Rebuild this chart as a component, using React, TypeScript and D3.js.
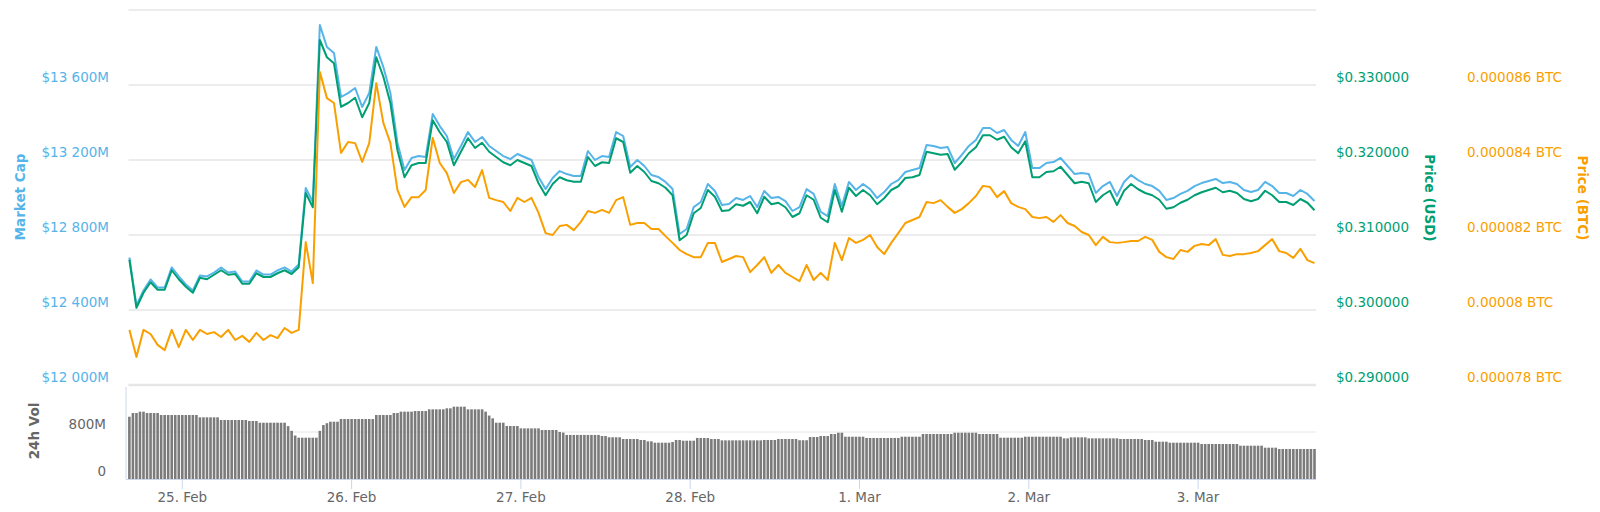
import * as d3 from 'd3';

// hourly samples, first one at 24 Feb 16:30 UTC
const marketCap = [
  12680, 12424, 12504, 12563, 12520, 12520, 12627, 12579, 12536, 12504,
  12584, 12579, 12600, 12627, 12600, 12605, 12552, 12552, 12611, 12589,
  12589, 12611, 12627, 12605, 12643, 13051, 12976, 13920, 13803, 13771,
  13536, 13557, 13584, 13483, 13557, 13803, 13696, 13557, 13291, 13147,
  13211, 13221, 13216, 13445, 13381, 13328, 13205, 13275, 13349, 13296,
  13323, 13275, 13248, 13221, 13205, 13232, 13216, 13200, 13109, 13045,
  13104, 13141, 13125, 13115, 13115, 13248, 13200, 13221, 13216, 13349,
  13328, 13163, 13200, 13168, 13120, 13109, 13083, 13045, 12805, 12832,
  12949, 12976, 13072, 13035, 12960, 12965, 12997, 12987, 13008, 12949,
  13035, 12997, 13003, 12981, 12928, 12949, 13045, 13019, 12923, 12901,
  13072, 12955, 13083, 13040, 13072, 13045, 12997, 13029, 13072, 13093,
  13136, 13147, 13157, 13280, 13275, 13264, 13269, 13184, 13227, 13275,
  13307, 13371, 13371, 13344, 13360, 13307, 13275, 13349, 13157, 13157,
  13184, 13189, 13211, 13168, 13125, 13131, 13125, 13024, 13061, 13083,
  13008, 13083, 13120, 13093, 13072, 13061, 13035, 12987, 12997, 13019,
  13035, 13061, 13077, 13088, 13099, 13077, 13083, 13072, 13040, 13029,
  13040, 13083, 13061, 13024, 13024, 13008, 13040, 13019, 12981,
];

const usdPrice = [
  0.3067, 0.3003, 0.3023, 0.3037, 0.3027, 0.3027, 0.3053, 0.3041, 0.3031, 0.3023,
  0.3043, 0.3041, 0.3047, 0.3053, 0.3047, 0.3048, 0.3035, 0.3035, 0.3049, 0.3044,
  0.3044, 0.3049, 0.3053, 0.3048, 0.3057, 0.3156, 0.3137, 0.336, 0.3337, 0.3329,
  0.3271, 0.3276, 0.3283, 0.3257, 0.3276, 0.3337, 0.3311, 0.3276, 0.3213, 0.3177,
  0.3193, 0.3196, 0.3196, 0.3253, 0.3237, 0.3224, 0.3193, 0.3211, 0.3229, 0.3216,
  0.3223, 0.3211, 0.3204, 0.3197, 0.3193, 0.32, 0.3196, 0.3192, 0.3169, 0.3153,
  0.3168, 0.3177, 0.3173, 0.3171, 0.3171, 0.3204, 0.3192, 0.3197, 0.3196, 0.3229,
  0.3224, 0.3183, 0.3192, 0.3184, 0.3172, 0.3169, 0.3163, 0.3153, 0.3093, 0.31,
  0.3129, 0.3136, 0.316, 0.3151, 0.3132, 0.3133, 0.3141, 0.3139, 0.3144, 0.3129,
  0.3151, 0.3141, 0.3143, 0.3137, 0.3124, 0.3129, 0.3153, 0.3147, 0.3123, 0.3117,
  0.316, 0.3131, 0.3163, 0.3152, 0.316, 0.3153, 0.3141, 0.3149, 0.316, 0.3165,
  0.3176, 0.3177, 0.318, 0.3211, 0.3209, 0.3207, 0.3208, 0.3187, 0.3197, 0.3209,
  0.3217, 0.3233, 0.3233, 0.3227, 0.3231, 0.3217, 0.3209, 0.3225, 0.3177, 0.3177,
  0.3184, 0.3185, 0.3191, 0.318, 0.3169, 0.3171, 0.3169, 0.3144, 0.3153, 0.3159,
  0.314, 0.3159, 0.3168, 0.3161, 0.3156, 0.3153, 0.3147, 0.3135, 0.3137, 0.3143,
  0.3147, 0.3153, 0.3157, 0.316, 0.3163, 0.3157, 0.3159, 0.3156, 0.3148, 0.3145,
  0.3148, 0.3159, 0.3153, 0.3144, 0.3144, 0.314, 0.3148, 0.3143, 0.3133,
];

const btcPrice = [
  79.47e-6, 78.75e-6, 79.47e-6, 79.36e-6, 79.07e-6, 78.93e-6, 79.47e-6, 79.01e-6, 79.47e-6, 79.2e-6,
  79.47e-6, 79.36e-6, 79.41e-6, 79.28e-6, 79.47e-6, 79.2e-6, 79.31e-6, 79.15e-6, 79.39e-6, 79.2e-6,
  79.33e-6, 79.25e-6, 79.52e-6, 79.39e-6, 79.47e-6, 81.81e-6, 80.72e-6, 86.35e-6, 85.65e-6, 85.52e-6,
  84.19e-6, 84.48e-6, 84.45e-6, 83.95e-6, 84.45e-6, 86.05e-6, 84.99e-6, 84.45e-6, 83.2e-6, 82.75e-6,
  83.01e-6, 83.01e-6, 83.2e-6, 84.59e-6, 83.92e-6, 83.65e-6, 83.12e-6, 83.41e-6, 83.47e-6, 83.28e-6,
  83.73e-6, 82.99e-6, 82.93e-6, 82.88e-6, 82.64e-6, 82.99e-6, 82.88e-6, 82.99e-6, 82.59e-6, 82.05e-6,
  82.0e-6, 82.24e-6, 82.27e-6, 82.13e-6, 82.35e-6, 82.64e-6, 82.59e-6, 82.67e-6, 82.59e-6, 82.93e-6,
  83.01e-6, 82.27e-6, 82.32e-6, 82.32e-6, 82.16e-6, 82.16e-6, 81.97e-6, 81.79e-6, 81.6e-6, 81.49e-6,
  81.41e-6, 81.41e-6, 81.79e-6, 81.79e-6, 81.28e-6, 81.36e-6, 81.44e-6, 81.41e-6, 81.01e-6, 81.2e-6,
  81.41e-6, 80.99e-6, 81.2e-6, 80.99e-6, 80.88e-6, 80.77e-6, 81.2e-6, 80.8e-6, 80.99e-6, 80.8e-6,
  81.79e-6, 81.33e-6, 81.92e-6, 81.79e-6, 81.87e-6, 82.0e-6, 81.68e-6, 81.49e-6, 81.79e-6, 82.05e-6,
  82.32e-6, 82.4e-6, 82.48e-6, 82.88e-6, 82.85e-6, 82.93e-6, 82.75e-6, 82.59e-6, 82.69e-6, 82.85e-6,
  83.04e-6, 83.31e-6, 83.28e-6, 83.01e-6, 83.17e-6, 82.85e-6, 82.75e-6, 82.69e-6, 82.48e-6, 82.45e-6,
  82.48e-6, 82.35e-6, 82.53e-6, 82.32e-6, 82.24e-6, 82.08e-6, 82.0e-6, 81.73e-6, 81.95e-6, 81.81e-6,
  81.79e-6, 81.81e-6, 81.84e-6, 81.84e-6, 81.95e-6, 81.87e-6, 81.55e-6, 81.41e-6, 81.36e-6, 81.6e-6,
  81.55e-6, 81.71e-6, 81.76e-6, 81.73e-6, 81.89e-6, 81.47e-6, 81.44e-6, 81.49e-6, 81.49e-6, 81.52e-6,
  81.57e-6, 81.73e-6, 81.89e-6, 81.57e-6, 81.52e-6, 81.39e-6, 81.63e-6, 81.33e-6, 81.25e-6,
];

// 24h volume in millions USD, one bar per half hour
const volume24h = [
  1060, 1123, 1123, 1146, 1146, 1123, 1123, 1123, 1123,
  1089, 1089, 1089, 1089, 1089, 1089, 1089, 1089, 1089, 1089, 1089,
  1050, 1050, 1050, 1050, 1050, 1050,
  1004, 1004, 1004, 1004, 1004, 1004, 1004, 1004,
  987, 987, 987,
  958, 958, 958, 958, 958, 958, 958, 958,
  900, 820, 740,
  703, 703, 703, 703, 703, 703,
  820, 919, 950,
  975, 975, 975,
  1021, 1021, 1021, 1021, 1021, 1021, 1021, 1021, 1021, 1021,
  1089, 1089, 1089, 1089, 1089,
  1123, 1123,
  1146, 1146, 1146, 1146,
  1157, 1157, 1157, 1157,
  1186, 1186, 1186, 1186, 1186,
  1203, 1203,
  1231, 1231, 1231, 1231,
  1186, 1186, 1186, 1186, 1186,
  1146, 1080, 1033,
  958, 958, 958,
  902, 902, 902, 902,
  862, 862, 862, 862, 862, 862,
  834, 834, 834, 834, 834,
  800, 790,
  750, 750, 750, 750, 750, 750, 750, 750, 750, 750,
  732, 732,
  710, 710, 710, 710,
  681, 681, 681, 681, 681,
  664, 664,
  641, 641,
  618, 618, 618, 618, 618,
  630,
  664, 664,
  652, 652, 652, 652,
  698, 698, 698, 698,
  681, 681, 681,
  658, 658, 658, 658, 658, 658, 658, 658, 658, 658, 658, 658,
  664, 664, 664, 664,
  681, 681, 681, 681, 681, 681,
  660, 660, 660,
  715, 715, 715,
  732, 732, 732,
  766, 766,
  788, 788,
  720, 720, 720, 720, 720, 720,
  698, 698, 698, 698, 698, 698, 698, 698, 698, 698,
  720, 720, 720, 720, 720, 720,
  766, 766, 766, 766, 766, 766, 766, 766, 766,
  788, 788, 788, 788, 788, 788, 788,
  766, 766, 766, 766, 766, 766,
  703, 703, 703, 703, 703, 703, 703,
  720, 720, 720, 720, 720, 720, 720, 720, 720, 720, 720,
  692, 692,
  709, 709, 709, 709, 709,
  692, 692, 692, 692, 692, 692, 692, 692, 692,
  681, 681, 681, 681, 681, 681, 681,
  664, 664, 664,
  635, 635, 635, 635,
  618, 618, 618, 618, 618, 618, 618, 618, 618,
  596, 596, 596, 596, 596, 596, 596, 596, 596, 596, 596,
  567, 567, 567, 567, 567, 567, 567,
  533, 533, 533, 533,
  511, 511, 511, 511, 511, 511, 511, 511, 511, 511, 511,
];

const capTicks = [12000, 12400, 12800, 13200, 13600];
const usdTicks = [0.29, 0.3, 0.31, 0.32, 0.33];
const btcTicks = [0.000078, 0.00008, 0.000082, 0.000084, 0.000086];
const volTicks = [0, 800];
const dayTicks = [
  Date.UTC(2019, 1, 25), Date.UTC(2019, 1, 26), Date.UTC(2019, 1, 27), Date.UTC(2019, 1, 28),
  Date.UTC(2019, 2, 1), Date.UTC(2019, 2, 2), Date.UTC(2019, 2, 3),
];

const FIRST_POINT = Date.UTC(2019, 1, 24, 16, 30);
const HOUR = 3600 * 1000;

const FONT = '"DejaVu Sans", "Lucida Grande", Arial, sans-serif';
const BLUE = '#56b4e9';
const GREEN = '#009e73';
const ORANGE = '#f9a000';
const GRID = '#e6e6e6';
const AXIS = '#ccd6eb';

const PLOT_LEFT = 128.5;
const PLOT_RIGHT = 1316;

export default function App() {
  const x = d3
    .scaleUtc()
    .domain([dayTicks[0], dayTicks[dayTicks.length - 1]])
    .range([182.3, 1198.1]);
  const yCap = d3.scaleLinear().domain([12000, 14000]).range([385, 10]);
  const yUsd = d3.scaleLinear().domain([0.29, 0.34]).range([385, 10]);
  const yBtc = d3.scaleLinear().domain([0.000078, 0.000088]).range([385, 10]);
  const yVol = d3.scaleLinear().domain([0, 1600]).range([479, 385]);

  const hourX = (i: number) => x(FIRST_POINT + i * HOUR);
  const halfHourX = (j: number) => x(FIRST_POINT + (j * HOUR) / 2);

  const capLine = d3.line<number>().x((_, i) => hourX(i)).y(v => yCap(v));
  const usdLine = d3.line<number>().x((_, i) => hourX(i)).y(v => yUsd(v));
  const btcLine = d3.line<number>().x((_, i) => hourX(i)).y(v => yBtc(v));

  const capLabel = (v: number) => `$${d3.format(',')(v).replace(/,/g, ' ')}M`;
  const dayLabel = d3.utcFormat('%-d. %b');
  const gridValues = [...capTicks, yCap.domain()[1]];

  return (
    <svg
      width={1600}
      height={512}
      style={{ position: 'absolute', left: 0, top: 0, background: '#fff' }}
      fontFamily={FONT}
    >
      {gridValues.map(v => (
        <line key={`g${v}`} x1={PLOT_LEFT} x2={PLOT_RIGHT} y1={yCap(v)} y2={yCap(v)} stroke={GRID} strokeWidth={1.5} />
      ))}

      {/* volume panel */}
      <line x1={PLOT_LEFT} x2={PLOT_RIGHT} y1={yVol(800)} y2={yVol(800)} stroke={GRID} strokeWidth={1} />
      <line x1={PLOT_LEFT} x2={PLOT_RIGHT} y1={yVol(1600)} y2={yVol(1600)} stroke={GRID} strokeWidth={2.5} />
      {volume24h.map((v, j) => (
        <rect
          key={`v${j}`}
          x={halfHourX(j) - 1.3}
          y={yVol(v)}
          width={2.6}
          height={yVol(0) - yVol(v)}
          fill="#7b7b7b"
        />
      ))}
      <line x1={126} x2={126} y1={387} y2={yVol(0)} stroke={AXIS} strokeWidth={1} />
      <line x1={126} x2={PLOT_RIGHT} y1={yVol(0) + 0.5} y2={yVol(0) + 0.5} stroke={AXIS} strokeWidth={1} />
      {dayTicks.map(d => (
        <g key={`d${d}`}>
          <line x1={x(d)} x2={x(d)} y1={yVol(0)} y2={yVol(0) + 10} stroke={AXIS} strokeWidth={1} />
          <text x={x(d)} y={497} dy="0.35em" textAnchor="middle" fontSize={13.5} fill="#666">
            {dayLabel(new Date(d))}
          </text>
        </g>
      ))}
      {volTicks.map(v => (
        <text key={`vt${v}`} x={106} y={yVol(v) - 8} dy="0.35em" textAnchor="end" fontSize={13.5} fill="#666">
          {v === 0 ? '0' : `${v}M`}
        </text>
      ))}
      <text
        transform="translate(34, 431) rotate(-90)"
        textAnchor="middle"
        dy="0.35em"
        fontSize={13.5}
        fontWeight="bold"
        fill="#666"
      >
        24h Vol
      </text>

      {/* price lines */}
      <path d={capLine(marketCap) ?? ''} fill="none" stroke={BLUE} strokeWidth={2} strokeLinejoin="round" />
      <path d={usdLine(usdPrice) ?? ''} fill="none" stroke={GREEN} strokeWidth={2} strokeLinejoin="round" />
      <path d={btcLine(btcPrice) ?? ''} fill="none" stroke={ORANGE} strokeWidth={2} strokeLinejoin="round" />

      {/* left axis */}
      {capTicks.map(v => (
        <text key={`c${v}`} x={109} y={yCap(v) - 7.5} dy="0.35em" textAnchor="end" fontSize={13.5} fill={BLUE}>
          {capLabel(v)}
        </text>
      ))}
      <text
        transform="translate(20, 197) rotate(-90)"
        textAnchor="middle"
        dy="0.35em"
        fontSize={13.5}
        fontWeight="bold"
        fill={BLUE}
      >
        Market Cap
      </text>

      {/* right axes */}
      {usdTicks.map(v => (
        <text key={`u${v}`} x={1336} y={yUsd(v) - 7.5} dy="0.35em" fontSize={13.5} fill={GREEN}>
          {`$${v.toFixed(6)}`}
        </text>
      ))}
      <text
        transform="translate(1430, 198) rotate(90)"
        textAnchor="middle"
        dy="0.35em"
        fontSize={13.5}
        fontWeight="bold"
        fill={GREEN}
      >
        Price (USD)
      </text>
      {btcTicks.map(v => (
        <text key={`b${v}`} x={1467} y={yBtc(v) - 7.5} dy="0.35em" fontSize={13.5} fill={ORANGE}>
          {`${+v.toFixed(6)} BTC`}
        </text>
      ))}
      <text
        transform="translate(1583, 198) rotate(90)"
        textAnchor="middle"
        dy="0.35em"
        fontSize={13.5}
        fontWeight="bold"
        fill={ORANGE}
      >
        Price (BTC)
      </text>
    </svg>
  );
}
